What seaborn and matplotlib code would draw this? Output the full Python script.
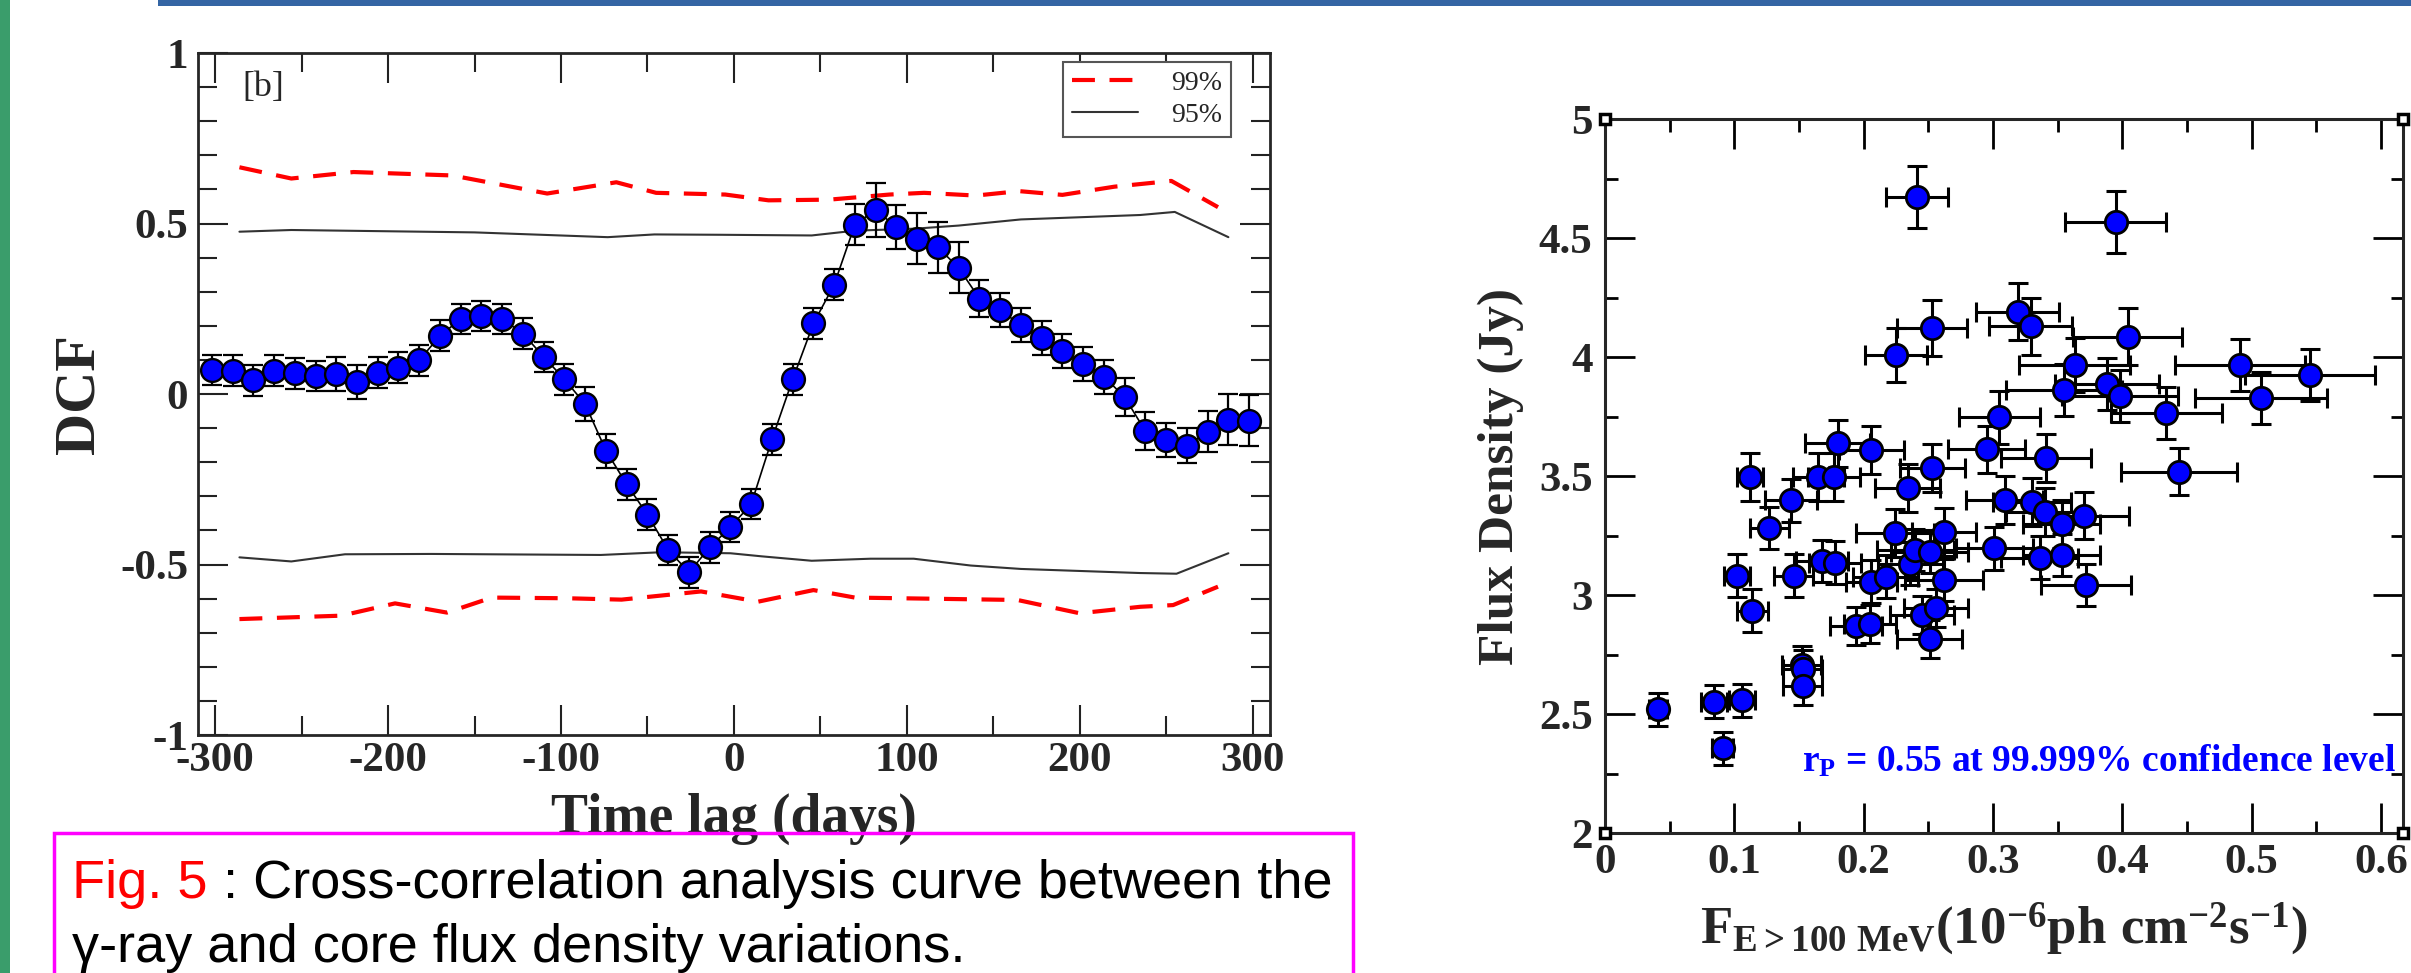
import numpy as np
import pandas as pd
import matplotlib
matplotlib.use("Agg")
import matplotlib.pyplot as plt
import seaborn as sns
from matplotlib.ticker import MultipleLocator, FuncFormatter
from matplotlib.patches import Rectangle
from matplotlib.lines import Line2D

# ---------------- data: DCF curve (left panel) ----------------
lags = [-302, -290, -278, -266, -254, -242, -230, -218, -206, -194, -182,
        -170, -158, -146, -134, -122, -110, -98, -86, -74, -62, -50, -38,
        -26, -14, -2, 10, 22, 34, 46, 58, 70, 82, 94, 106, 118, 130, 142,
        154, 166, 178, 190, 202, 214, 226, 238, 250, 262, 274, 286, 298]
dcf = [0.070, 0.068, 0.040, 0.068, 0.061, 0.053, 0.058, 0.036, 0.063, 0.077,
       0.099, 0.171, 0.220, 0.229, 0.220, 0.177, 0.109, 0.043, -0.030, -0.166,
       -0.265, -0.354, -0.457, -0.523, -0.450, -0.390, -0.323, -0.133, 0.043,
       0.207, 0.321, 0.497, 0.540, 0.489, 0.455, 0.430, 0.370, 0.280, 0.246,
       0.202, 0.164, 0.126, 0.087, 0.051, -0.009, -0.109, -0.136, -0.151,
       -0.111, -0.075, -0.078]
dcf_err = [0.045, 0.045, 0.045, 0.045, 0.045, 0.045, 0.050, 0.050, 0.045, 0.045,
           0.045, 0.045, 0.045, 0.045, 0.045, 0.045, 0.045, 0.045, 0.050, 0.050,
           0.045, 0.045, 0.045, 0.045, 0.045, 0.045, 0.045, 0.045, 0.045, 0.045,
           0.045, 0.060, 0.080, 0.065, 0.075, 0.075, 0.075, 0.055, 0.050, 0.050,
           0.050, 0.050, 0.050, 0.050, 0.055, 0.055, 0.050, 0.050, 0.060, 0.075,
           0.075]

# significance levels
up99_lag = [-286, -256, -220, -163, -108, -68, -45, -5, 20, 55, 90, 110, 140, 165, 190, 220, 253, 280]
up99 = [0.665, 0.632, 0.651, 0.641, 0.588, 0.621, 0.590, 0.585, 0.568, 0.570, 0.585, 0.590,
        0.582, 0.595, 0.584, 0.608, 0.625, 0.548]
lo99_lag = [-286, -227, -196, -166, -140, -96, -65, -19, 14, 46, 70, 164, 200, 235, 254, 280]
lo99 = [-0.660, -0.650, -0.614, -0.641, -0.597, -0.599, -0.603, -0.579, -0.609, -0.575,
        -0.597, -0.604, -0.643, -0.624, -0.619, -0.565]
up95_lag = [-286, -256, -150, -73, -46, -8, 45, 70, 105, 130, 166, 235, 255, 286]
up95 = [0.476, 0.481, 0.474, 0.460, 0.468, 0.467, 0.465, 0.479, 0.485, 0.494, 0.512,
        0.525, 0.534, 0.460]
lo95_lag = [-286, -256, -225, -175, -77, -42, -2, 16, 45, 79, 104, 137, 166, 235, 256, 286]
lo95 = [-0.479, -0.491, -0.470, -0.469, -0.472, -0.464, -0.467, -0.476, -0.489, -0.483,
        -0.483, -0.503, -0.513, -0.525, -0.527, -0.467]

# ---------------- data: flux-flux scatter (right panel) ----------------
gamma = [0.241, 0.395, 0.319, 0.329, 0.253, 0.225, 0.404, 0.363, 0.491, 0.545,
         0.355, 0.388, 0.398, 0.507, 0.434, 0.305, 0.180, 0.206, 0.295, 0.341,
         0.444, 0.253, 0.112, 0.165, 0.177, 0.234, 0.144, 0.309, 0.330, 0.340,
         0.370, 0.353, 0.127, 0.224, 0.262, 0.102, 0.146, 0.114, 0.168, 0.178,
         0.206, 0.217, 0.236, 0.240, 0.251, 0.262, 0.301, 0.336, 0.353, 0.372,
         0.194, 0.205, 0.245, 0.256, 0.251, 0.152, 0.153, 0.153, 0.041, 0.084,
         0.106, 0.091]
gamma_err = [0.024, 0.039, 0.032, 0.032, 0.027, 0.024, 0.042, 0.043, 0.050, 0.050,
             0.045, 0.040, 0.045, 0.051, 0.043, 0.031, 0.025, 0.025, 0.030, 0.035,
             0.045, 0.025, 0.010, 0.020, 0.020, 0.025, 0.020, 0.030, 0.030, 0.030,
             0.035, 0.030, 0.015, 0.030, 0.025, 0.010, 0.015, 0.012, 0.020, 0.020,
             0.020, 0.025, 0.025, 0.030, 0.030, 0.030, 0.030, 0.030, 0.030, 0.035,
             0.020, 0.020, 0.025, 0.025, 0.025, 0.015, 0.015, 0.015, 0.007, 0.010,
             0.010, 0.008]
radio = [4.675, 4.570, 4.192, 4.131, 4.122, 4.010, 4.087, 3.968, 3.968, 3.926,
         3.863, 3.888, 3.837, 3.830, 3.765, 3.747, 3.638, 3.611, 3.613, 3.578,
         3.520, 3.534, 3.498, 3.498, 3.498, 3.452, 3.400, 3.400, 3.393, 3.351,
         3.335, 3.300, 3.283, 3.262, 3.267, 3.083, 3.083, 2.936, 3.144, 3.137,
         3.057, 3.078, 3.133, 3.190, 3.183, 3.064, 3.197, 3.158, 3.169, 3.043,
         2.872, 2.878, 2.917, 2.945, 2.817, 2.705, 2.690, 2.620, 2.521, 2.553,
         2.558, 2.357]
radio_err = [0.130, 0.130, 0.120, 0.120, 0.118, 0.115, 0.120, 0.115, 0.110, 0.110,
             0.110, 0.110, 0.110, 0.110, 0.110, 0.110, 0.100, 0.100, 0.100, 0.100,
             0.100, 0.100, 0.100, 0.100, 0.100, 0.100, 0.090, 0.100, 0.100, 0.100,
             0.100, 0.100, 0.090, 0.100, 0.100, 0.090, 0.090, 0.090, 0.090, 0.090,
             0.090, 0.090, 0.090, 0.090, 0.090, 0.090, 0.090, 0.090, 0.090, 0.090,
             0.080, 0.080, 0.080, 0.080, 0.080, 0.080, 0.080, 0.080, 0.070, 0.070,
             0.070, 0.070]

sns.set_style("ticks")
plt.rcParams["font.family"] = ["Liberation Serif", "DejaVu Serif"]
plt.rcParams["font.weight"] = "bold"
plt.rcParams["axes.labelweight"] = "bold"
plt.rcParams["mathtext.fontset"] = "custom"
plt.rcParams["mathtext.rm"] = "Liberation Serif:bold"
plt.rcParams["mathtext.bf"] = "Liberation Serif:bold"
plt.rcParams["mathtext.it"] = "Liberation Serif:bold"
plt.rcParams["axes.unicode_minus"] = False

fig = plt.figure(figsize=(24.11, 9.73), dpi=100)
ax1 = fig.add_axes([0.0821, 0.2446, 0.4446, 0.7009])
ax2 = fig.add_axes([0.6657, 0.1436, 0.3310, 0.7338])

fmt = FuncFormatter(lambda v, p: "0" if abs(v) < 1e-9 else f"{v:g}")
dash = (0, (5.5, 3.5))

# ---- left: DCF ----
sns.lineplot(x=up99_lag, y=up99, ax=ax1, color="red", lw=3, linestyle=dash, zorder=1)
sns.lineplot(x=lo99_lag, y=lo99, ax=ax1, color="red", lw=3, linestyle=dash, zorder=1)
sns.lineplot(x=up95_lag, y=up95, ax=ax1, color="#333333", lw=1.5, zorder=1)
sns.lineplot(x=lo95_lag, y=lo95, ax=ax1, color="#333333", lw=1.5, zorder=1)
sns.lineplot(x=lags, y=dcf, ax=ax1, color="black", lw=1.2, zorder=2)
ax1.errorbar(lags, dcf, yerr=dcf_err, fmt="none", ecolor="black",
             elinewidth=1.6, capsize=7, capthick=1.6, zorder=3)
sns.scatterplot(x=lags, y=dcf, ax=ax1, s=270, color="#0000ff",
                edgecolor="black", linewidth=1.7, zorder=4)

ax1.set_xlim(-310, 310)
ax1.set_ylim(-1, 1)
ax1.xaxis.set_major_locator(MultipleLocator(100))
ax1.xaxis.set_minor_locator(MultipleLocator(50))
ax1.yaxis.set_major_locator(MultipleLocator(0.5))
ax1.yaxis.set_minor_locator(MultipleLocator(0.1))
ax1.xaxis.set_major_formatter(fmt)
ax1.yaxis.set_major_formatter(fmt)
ax1.tick_params(which="both", direction="in", top=True, right=True,
                width=1.5, color="#222222", labelsize=31)
ax1.tick_params(which="major", length=21.6)
ax1.tick_params(which="minor", length=13.5)
ax1.tick_params(axis="x", pad=5)
ax1.tick_params(axis="y", pad=7)
for s in ax1.spines.values():
    s.set_linewidth(2)
ax1.set_xlabel("Time lag (days)", fontsize=40, fontweight="bold")
ax1.set_ylabel("DCF", fontsize=42, fontweight="bold")
ax1.xaxis.set_label_coords(0.5, -0.085)
ax1.yaxis.set_label_coords(-0.086, 0.5)
ax1.text(0.041, 0.974, "[b]", transform=ax1.transAxes, fontsize=26,
         fontweight="normal", va="top", ha="left")

handles = [Line2D([], [], color="red", lw=3, ls=dash),
           Line2D([], [], color="#333333", lw=1.5)]
leg = ax1.legend(handles, ["99%", "95%"], loc="upper right",
                 bbox_to_anchor=(0.9636, 0.9868), borderaxespad=0,
                 frameon=True, fancybox=False, framealpha=1, edgecolor="#555555",
                 prop={"family": "Liberation Serif", "weight": "normal", "size": 20},
                 handlelength=2.4, handletextpad=1.2, borderpad=0.3, labelspacing=0.25)
leg.get_frame().set_linewidth(1.5)

# ---- right: scatter ----
ax2.errorbar(gamma, radio, xerr=gamma_err, yerr=radio_err, fmt="none",
             ecolor="black", elinewidth=2.2, capsize=7, capthick=2.2, zorder=2)
sns.scatterplot(x=gamma, y=radio, ax=ax2, s=260, color="#0000ff",
                edgecolor="black", linewidth=2, zorder=3)
ax2.set_xlim(0, 0.617)
ax2.set_ylim(2, 5)
ax2.xaxis.set_major_locator(MultipleLocator(0.1))
ax2.xaxis.set_minor_locator(MultipleLocator(0.05))
ax2.yaxis.set_major_locator(MultipleLocator(0.5))
ax2.yaxis.set_minor_locator(MultipleLocator(0.25))
ax2.xaxis.set_major_formatter(fmt)
ax2.yaxis.set_major_formatter(fmt)
ax2.tick_params(which="both", direction="in", top=True, right=True,
                width=2, color="black", labelsize=31)
ax2.tick_params(which="major", length=21.6)
ax2.tick_params(which="minor", length=9)
ax2.tick_params(axis="x", pad=8)
ax2.tick_params(axis="y", pad=9)
for s in ax2.spines.values():
    s.set_linewidth(2.2)
ax2.plot([0, 1, 0, 1], [0, 0, 1, 1], "s", transform=ax2.transAxes, ms=7,
         mfc="white", mec="black", mew=2.5, clip_on=False, zorder=6)
ax2.set_ylabel("Flux Density (Jy)", fontsize=37, fontweight="bold")
ax2.set_xlabel(r"$\mathbf{F_{E>100\ MeV}(10^{-6}ph\ cm^{-2}s^{-1})}$", fontsize=38)
ax2.yaxis.set_label_coords(-0.1015, 0.5)
ax2.xaxis.set_label_coords(0.5, -0.093)
ax2.text(0.152, 2.26, r"$\mathbf{r_P}$ = 0.55 at 99.999% confidence level",
         color="#0000ff", fontsize=27, fontweight="bold", va="baseline")

# ---- poster decorations and caption ----
W, H = 2411, 973
fig.add_artist(Rectangle((0, 0), 10 / W, 1, transform=fig.transFigure,
                         facecolor="#3a9d6b", edgecolor="none"))
fig.add_artist(Rectangle((158 / W, 1 - 6 / H), 1, 6 / H, transform=fig.transFigure,
                         facecolor="#3465a4", edgecolor="none"))
fig.add_artist(Rectangle((54 / W, -0.05), (1353 - 54) / W, (H - 833) / H + 0.05,
                         transform=fig.transFigure, fill=False,
                         edgecolor="#ff00ff", lw=2.5, clip_on=False))

cap = dict(family=["Liberation Sans", "DejaVu Sans"], fontsize=39, fontweight="normal",
           va="baseline")
t1 = fig.text(72 / W, (H - 898) / H, "Fig. 5", color="red", **cap)
fig.canvas.draw()
bb = t1.get_window_extent()
fig.text(bb.x1 / W, (H - 898) / H, " : Cross-correlation analysis curve between the",
         color="black", **cap)
fig.text(72 / W, (H - 962) / H, "\u03b3-ray and core flux density variations.",
         color="black", **cap)

fig.savefig("out.png", dpi=100)
